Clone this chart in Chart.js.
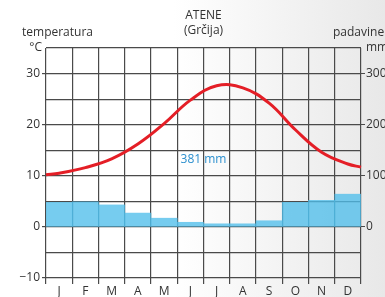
<!DOCTYPE html>
<html lang="hr">
<head>
    <meta charset="UTF-8">
    <title>Atene - klimadijagram</title>
    <script src="https://cdn.jsdelivr.net/npm/chart.js"></script>
    <style>
        html, body { margin: 0; padding: 0; background: #fff; }
        #wrap { width: 385px; height: 297px; position: relative; }
    </style>
</head>
<body>
<div id="wrap"><canvas id="klima" width="385" height="297"></canvas></div>
<script>
    // podaci
    const months = ['J', 'F', 'M', 'A', 'M', 'J', 'J', 'A', 'S', 'O', 'N', 'D'];
    const precipMm = [48, 49, 43, 27, 17, 9, 6, 6, 12, 48, 52, 64];
    const tempC = [10.5, 11.6, 13.3, 16.2, 20.2, 24.8, 27.6, 27.2, 24.2, 19.0, 14.6, 12.3];
    const tempStart = 10.2;   // vrijednost na lijevom rubu
    const tempEnd = 11.7;     // vrijednost na desnom rubu
    const tempTicks = [-10, 0, 10, 20, 30];
    const precipTicks = [0, 100, 200, 300];
    const totalLabel = '381 mm';

    const FONT = '"Open Sans", "Noto Sans", sans-serif';
    const gridCol = '#4a4a4a';

    const linePts = [{ x: 0, y: tempStart }]
        .concat(tempC.map((t, i) => ({ x: i + 0.5, y: t })))
        .concat([{ x: months.length, y: tempEnd }]);

    const bgPlugin = {
        id: 'bg',
        beforeDraw(chart) {
            const c = chart.ctx;
            const g = c.createLinearGradient(0, 0, chart.width, 0);
            g.addColorStop(0, '#ffffff');
            g.addColorStop(0.45, '#ffffff');
            g.addColorStop(1, '#e8e8e8');
            c.save();
            c.fillStyle = g;
            c.fillRect(0, 0, chart.width, chart.height);
            c.restore();
        }
    };

    const textPlugin = {
        id: 'texts',
        afterDraw(chart) {
            const c = chart.ctx;
            const a = chart.chartArea;
            c.save();
            c.fillStyle = '#333';
            c.font = '12px ' + FONT;
            c.textBaseline = 'middle';
            c.textAlign = 'center';
            c.fillText('ATENE', (a.left + a.right) / 2, 16);
            c.fillText('(Grčija)', (a.left + a.right) / 2, 31);
            c.textAlign = 'left';
            c.fillText('temperatura', 22, 33);
            c.fillText('padavine', 333, 33);
            c.fillText('mm', 366, 48);
            c.textAlign = 'right';
            c.fillText('°C', 42, 48);
            c.textAlign = 'center';
            c.fillStyle = '#2b8fce';
            c.fillText(totalLabel, (a.left + a.right) / 2, 160);
            c.restore();
        }
    };

    new Chart(document.getElementById('klima'), {
        type: 'bar',
        data: {
            labels: months,
            datasets: [{
                type: 'bar',
                data: precipMm,
                xAxisID: 'x',
                yAxisID: 'y2',
                backgroundColor: 'rgba(80, 190, 235, 0.78)',
                borderWidth: 0,
                grouped: false,
                barPercentage: 1,
                categoryPercentage: 1,
                order: 2
            }, {
                type: 'line',
                data: linePts,
                xAxisID: 'x2',
                yAxisID: 'y',
                borderColor: '#e41e26',
                borderWidth: 3,
                pointRadius: 0,
                tension: 0.4,
                clip: false,
                order: 1
            }]
        },
        options: {
            responsive: false,
            animation: false,
            layout: { padding: { top: 48, left: 0, right: 0, bottom: 0 } },
            plugins: { legend: { display: false }, tooltip: { enabled: false } },
            scales: {
                x: {
                    type: 'category',
                    offset: true,
                    grid: { offset: true, color: gridCol, lineWidth: 1.2, tickLength: 6, tickColor: gridCol },
                    border: { display: false },
                    ticks: { color: '#333', font: { family: FONT, size: 12 }, padding: 0, maxRotation: 0 },
                    afterFit(s) { s.height = 19; }
                },
                x2: {
                    type: 'linear', display: false, offset: false, min: 0, max: months.length
                },
                y: {
                    position: 'left',
                    min: -10, max: 35,
                    grid: {
                        color: gridCol, lineWidth: 1.2, tickLength: 4,
                        tickColor: ctx => tempTicks.includes(ctx.tick && ctx.tick.value) ? gridCol : 'rgba(0,0,0,0)'
                    },
                    border: { display: false },
                    ticks: {
                        stepSize: 5,
                        color: '#333',
                        font: { family: FONT, size: 12 },
                        padding: 2,
                        callback: v => tempTicks.includes(v) ? (v < 0 ? '\u2212' + Math.abs(v) : String(v)) : ''
                    },
                    afterFit(s) { s.width = 46; }
                },
                y2: {
                    position: 'right',
                    min: -100, max: 350,
                    grid: {
                        drawOnChartArea: false, tickLength: 4,
                        tickColor: ctx => precipTicks.includes(ctx.tick && ctx.tick.value) ? gridCol : 'rgba(0,0,0,0)'
                    },
                    border: { display: false },
                    ticks: {
                        stepSize: 50,
                        color: '#333',
                        font: { family: FONT, size: 12 },
                        padding: 1,
                        callback: v => precipTicks.includes(v) ? String(v) : ''
                    },
                    afterFit(s) { s.width = 24; }
                }
            }
        },
        plugins: [bgPlugin, textPlugin]
    });
</script>
</body>
</html>
